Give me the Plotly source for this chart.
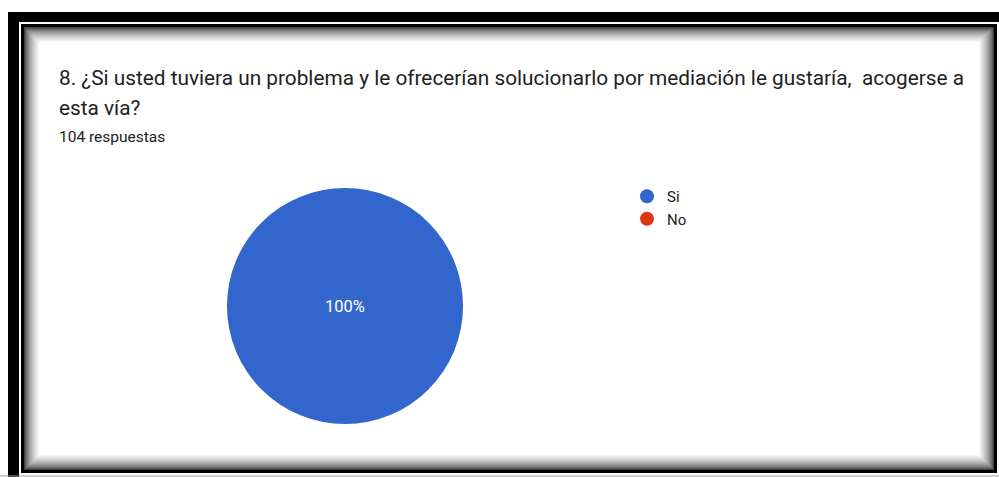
import plotly.graph_objects as go

# data
labels = ["Si", "No"]
values = [104, 0]
colors = ["#3366cc", "#dc3912"]

title_line1 = "8. ¿Si usted tuviera un problema y le ofrecerían solucionarlo por mediación le gustaría,\u00a0 acogerse a"
title_line2 = "esta vía?"
subtitle = "104 respuestas"

W, H = 999, 477


def px(x):
    return x / W


def py(y):
    return 1 - y / H


def rect(x0, y0, x1, y1, **kw):
    return dict(type="rect", xref="paper", yref="paper",
                x0=px(x0), x1=px(x1), y0=py(y1), y1=py(y0), layer="below", **kw)


fig = go.Figure()

fig.add_trace(go.Pie(
    labels=labels, values=values,
    marker=dict(colors=colors, line=dict(width=0)),
    textinfo="percent", texttemplate="%{percent:.0%}",
    textfont=dict(color="white", size=16.5, family="Roboto"),
    sort=False, direction="clockwise",
    showlegend=False,
    domain=dict(x=[px(227), px(463)], y=[py(424), py(188)]),
))

# legend entries with round markers
for lab, col in zip(labels, colors):
    fig.add_trace(go.Scatter(x=[None], y=[None], mode="markers", name=lab,
                             legendgroup=lab,
                             marker=dict(color=col, size=14, symbol="circle")))

shapes = []
# outer black frame (left and top bars)
shapes.append(rect(8, 12, 999, 477, fillcolor="black", line=dict(width=0)))
shapes.append(rect(19, 22, 999, 477, fillcolor="white", line=dict(width=0)))
# inner frame
shapes.append(rect(21, 24, 997, 473, fillcolor="black", line=dict(width=0)))
# inner shadow gradient
steps = 16
for i in range(steps):
    t = (i + 1) / steps
    g = int(255 * min(1, t ** 0.5))
    shapes.append(rect(24 + i, 27 + i, 994 - i, 470 - i,
                       fillcolor=f"rgb({g},{g},{g})", line=dict(width=0)))
shapes.append(rect(24 + steps, 27 + steps, 994 - steps, 470 - steps,
                   fillcolor="white", line=dict(width=0)))
# bottom gray line
shapes.append(dict(type="line", xref="paper", yref="paper",
                   x0=px(0), x1=px(999), y0=py(476), y1=py(476),
                   line=dict(color="#9e9e9e", width=1), layer="below"))

annotations = [
    dict(text=title_line1, x=px(57), y=py(78), xanchor="left", yanchor="middle",
         font=dict(family="Roboto", size=20.8, color="#212121")),
    dict(text=title_line2, x=px(57), y=py(108), xanchor="left", yanchor="middle",
         font=dict(family="Roboto", size=20.8, color="#212121")),
    dict(text=subtitle, x=px(57), y=py(137), xanchor="left", yanchor="middle",
         font=dict(family="Roboto", size=15.5, color="#212121")),
]
for a in annotations:
    a.update(xref="paper", yref="paper", showarrow=False)

fig.update_layout(
    width=W, height=H,
    margin=dict(l=0, r=0, t=0, b=0),
    paper_bgcolor="white", plot_bgcolor="rgba(0,0,0,0)",
    xaxis=dict(visible=False), yaxis=dict(visible=False),
    shapes=shapes, annotations=annotations,
    showlegend=True,
    legend=dict(x=px(627), y=py(180), xanchor="left", yanchor="top",
                font=dict(family="Roboto", size=15, color="#212121"),
                tracegroupgap=0, bgcolor="rgba(0,0,0,0)"),
    font=dict(family="Roboto"),
)

fig.write_html("out.html", config={"displayModeBar": False},
               post_script="document.body.style.margin='0px';")
